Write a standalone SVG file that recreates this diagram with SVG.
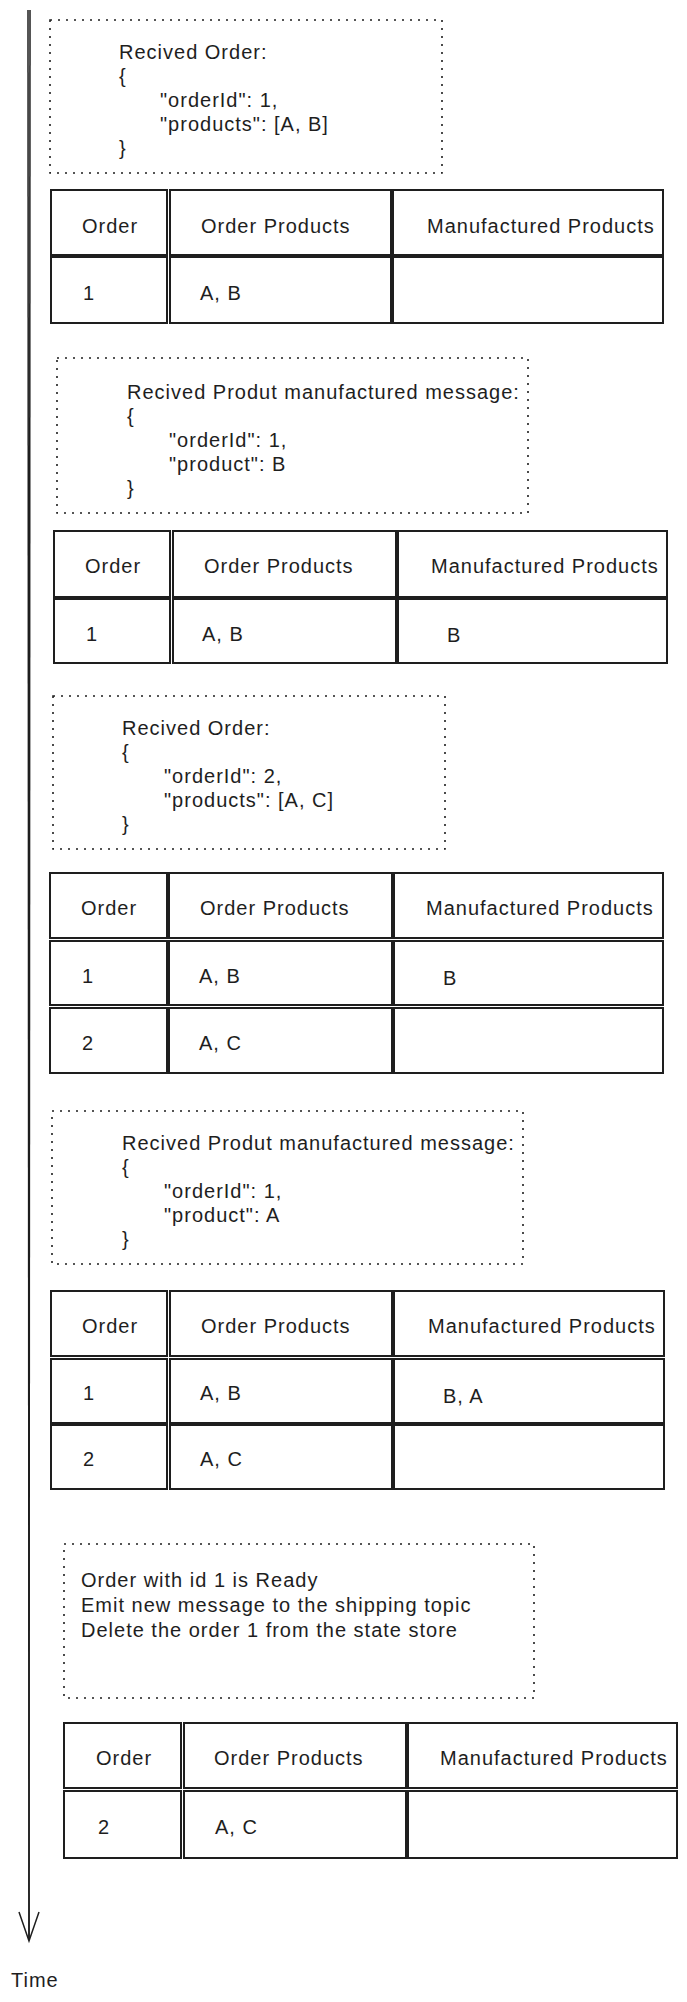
<svg xmlns="http://www.w3.org/2000/svg" width="687" height="2002" viewBox="0 0 687 2002">
<style>
text { font-family: "Liberation Sans", Arial, sans-serif; font-size: 20px; fill: #1e1e1e; letter-spacing: 1px; }
.note { fill: none; stroke: #1e1e1e; stroke-width: 1.6; stroke-dasharray: 2 6; }
.cell { fill: #ffffff; stroke: #1e1e1e; stroke-width: 2; }
.axis { fill: none; stroke: #1e1e1e; stroke-width: 1.5; }
</style>
<rect width="687" height="2002" fill="#ffffff"/>

<g id="connectors">
<path class="axis" d="M28 10 L29 1940"/>
<path class="axis" d="M30 10 L29 1940" stroke-width="1"/>
<path class="axis" d="M19 1912 L29 1941 L39 1912"/>
</g>

<g id="time-label"><text x="11" y="1987">Time</text></g>

<g id="note1">
<rect class="note" x="50" y="20" width="392" height="153"/>
<text x="119" y="59">Recived Order:</text>
<text x="119" y="83">{</text>
<text x="160" y="107">"orderId": 1,</text>
<text x="160" y="131">"products": [A, B]</text>
<text x="119" y="155">}</text>
</g>

<g id="table1">
<rect class="cell" x="51" y="190" width="116" height="65"/>
<rect class="cell" x="170" y="190" width="221" height="65"/>
<rect class="cell" x="393" y="190" width="270" height="65"/>
<rect class="cell" x="51" y="257" width="116" height="66"/>
<rect class="cell" x="170" y="257" width="221" height="66"/>
<rect class="cell" x="393" y="257" width="270" height="66"/>
<text x="82" y="233">Order</text>
<text x="201" y="233">Order Products</text>
<text x="427" y="233">Manufactured Products</text>
<text x="83" y="300">1</text>
<text x="200" y="300">A, B</text>
</g>

<g id="note2">
<rect class="note" x="57" y="358" width="471" height="155"/>
<text x="127" y="399">Recived Produt manufactured message:</text>
<text x="127" y="423">{</text>
<text x="169" y="447">"orderId": 1,</text>
<text x="169" y="471">"product": B</text>
<text x="127" y="495">}</text>
</g>

<g id="table2">
<rect class="cell" x="54" y="531" width="116" height="66"/>
<rect class="cell" x="173" y="531" width="223" height="66"/>
<rect class="cell" x="398" y="531" width="269" height="66"/>
<rect class="cell" x="54" y="599" width="116" height="64"/>
<rect class="cell" x="173" y="599" width="223" height="64"/>
<rect class="cell" x="398" y="599" width="269" height="64"/>
<text x="85" y="573">Order</text>
<text x="204" y="573">Order Products</text>
<text x="431" y="573">Manufactured Products</text>
<text x="86" y="641">1</text>
<text x="202" y="641">A, B</text>
<text x="447" y="642">B</text>
</g>

<g id="note3">
<rect class="note" x="53" y="696" width="392" height="153"/>
<text x="122" y="735">Recived Order:</text>
<text x="122" y="759">{</text>
<text x="164" y="783">"orderId": 2,</text>
<text x="164" y="807">"products": [A, C]</text>
<text x="122" y="831">}</text>
</g>

<g id="table3">
<rect class="cell" x="50" y="873" width="117" height="65"/>
<rect class="cell" x="169" y="873" width="223" height="65"/>
<rect class="cell" x="394" y="873" width="269" height="65"/>
<rect class="cell" x="50" y="941" width="117" height="64"/>
<rect class="cell" x="169" y="941" width="223" height="64"/>
<rect class="cell" x="394" y="941" width="269" height="64"/>
<rect class="cell" x="50" y="1008" width="117" height="65"/>
<rect class="cell" x="169" y="1008" width="223" height="65"/>
<rect class="cell" x="394" y="1008" width="269" height="65"/>
<text x="81" y="915">Order</text>
<text x="200" y="915">Order Products</text>
<text x="426" y="915">Manufactured Products</text>
<text x="82" y="983">1</text>
<text x="199" y="983">A, B</text>
<text x="443" y="985">B</text>
<text x="82" y="1050">2</text>
<text x="199" y="1050">A, C</text>
</g>

<g id="note4">
<rect class="note" x="52" y="1111" width="471" height="153"/>
<text x="122" y="1150">Recived Produt manufactured message:</text>
<text x="122" y="1174">{</text>
<text x="164" y="1198">"orderId": 1,</text>
<text x="164" y="1222">"product": A</text>
<text x="122" y="1246">}</text>
</g>

<g id="table4">
<rect class="cell" x="51" y="1291" width="116" height="65"/>
<rect class="cell" x="170" y="1291" width="222" height="65"/>
<rect class="cell" x="394" y="1291" width="270" height="65"/>
<rect class="cell" x="51" y="1359" width="116" height="64"/>
<rect class="cell" x="170" y="1359" width="222" height="64"/>
<rect class="cell" x="394" y="1359" width="270" height="64"/>
<rect class="cell" x="51" y="1425" width="116" height="64"/>
<rect class="cell" x="170" y="1425" width="222" height="64"/>
<rect class="cell" x="394" y="1425" width="270" height="64"/>
<text x="82" y="1333">Order</text>
<text x="201" y="1333">Order Products</text>
<text x="428" y="1333">Manufactured Products</text>
<text x="83" y="1400">1</text>
<text x="200" y="1400">A, B</text>
<text x="443" y="1403">B, A</text>
<text x="83" y="1466">2</text>
<text x="200" y="1466">A, C</text>
</g>

<g id="note5">
<rect class="note" x="64" y="1544" width="470" height="154"/>
<text x="81" y="1587">Order with id 1 is Ready</text>
<text x="81" y="1612">Emit new message to the shipping topic</text>
<text x="81" y="1637">Delete the order 1 from the state store</text>
</g>

<g id="table5">
<rect class="cell" x="64" y="1723" width="117" height="65"/>
<rect class="cell" x="184" y="1723" width="222" height="65"/>
<rect class="cell" x="408" y="1723" width="269" height="65"/>
<rect class="cell" x="64" y="1791" width="117" height="67"/>
<rect class="cell" x="184" y="1791" width="222" height="67"/>
<rect class="cell" x="408" y="1791" width="269" height="67"/>
<text x="96" y="1765">Order</text>
<text x="214" y="1765">Order Products</text>
<text x="440" y="1765">Manufactured Products</text>
<text x="98" y="1834">2</text>
<text x="215" y="1834">A, C</text>
</g>
</svg>
